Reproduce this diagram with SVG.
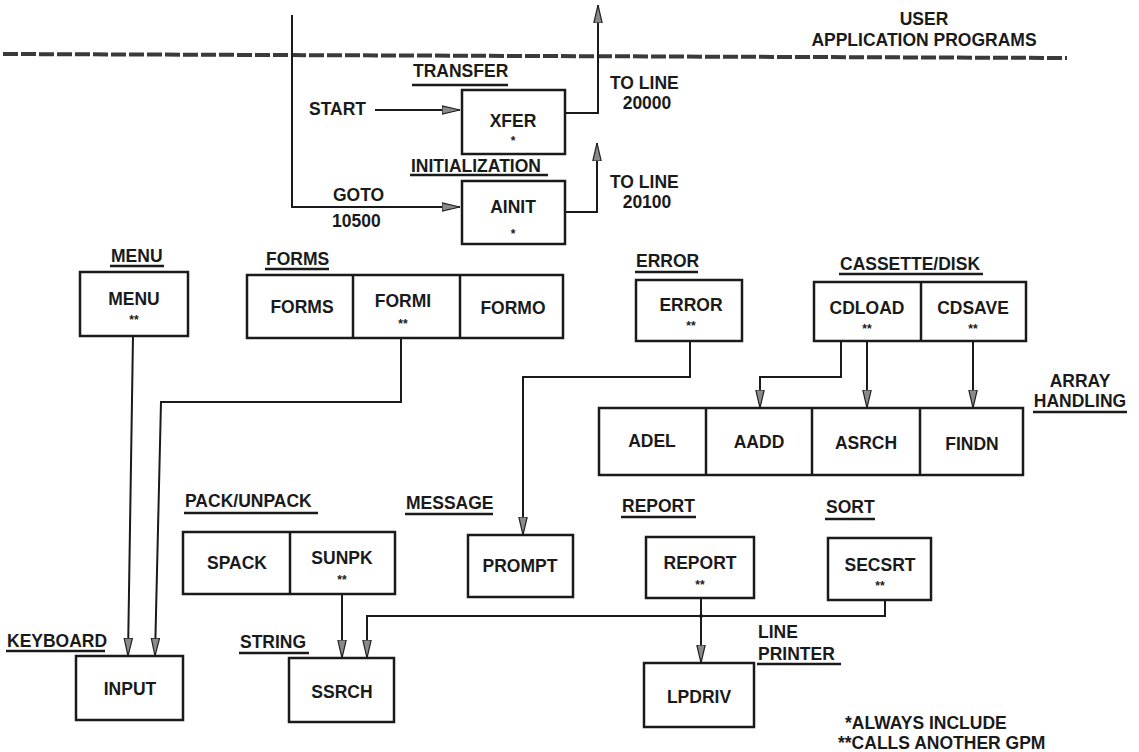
<svg xmlns="http://www.w3.org/2000/svg" width="1139" height="752" viewBox="0 0 1139 752">
<style>
text{font-family:"Liberation Sans",Arial,sans-serif;font-weight:bold;font-size:17.5px;fill:#1a1a1a}
.m{text-anchor:middle}
.s{font-size:12px}
.box{fill:none;stroke:#1a1a1a;stroke-width:2.5}
.ul{stroke:#1a1a1a;stroke-width:2.5}
.c{fill:none;stroke:#1a1a1a;stroke-width:2}
.a{marker-end:url(#arr)}
</style>
<defs>
<marker id="arr" viewBox="0 0 18 10" refX="18" refY="5" markerWidth="18" markerHeight="10" markerUnits="userSpaceOnUse" orient="auto">
<path d="M0,0.8 L18,5 L0,9.2 Z" fill="#8a8a8a" stroke="#222" stroke-width="1.2"/>
</marker>
</defs>
<rect width="1139" height="752" fill="#fff"/>

<g id="boundary">
<line x1="3" y1="54" x2="1067" y2="58" stroke="#3a3a3a" stroke-width="4" stroke-dasharray="15 3"/>
<text class="m" x="924" y="25">USER</text>
<text class="m" x="924" y="46">APPLICATION PROGRAMS</text>
</g>

<g id="connectors">
<path class="c a" d="M292,15 V207 H460"/>
<path class="c a" d="M375,110 H460"/>
<path class="c a" d="M565,113 H598 V5"/>
<path class="c a" d="M565,212 H597 V143"/>
<path class="c a" d="M133,336 L128,656"/>
<path class="c a" d="M401,338 V402 H161 L155,656"/>
<path class="c a" d="M690,341 V377 H523 V535"/>
<path class="c a" d="M841,341 V377 H760 V408"/>
<path class="c a" d="M867,341 V408"/>
<path class="c a" d="M973,341 V408"/>
<path class="c a" d="M342,594 V658"/>
<path class="c a" d="M885,600 V616 H367 V658"/>
<path class="c a" d="M701,598 V663"/>
<circle cx="701" cy="616" r="2" fill="#1a1a1a"/>
</g>

<g id="labels-top">
<text x="309" y="115">START</text>
<text x="333" y="201">GOTO</text>
<text x="332" y="227">10500</text>
<text x="610" y="89">TO LINE</text>
<text class="m" x="647" y="109">20000</text>
<text x="610" y="188">TO LINE</text>
<text class="m" x="647" y="208">20100</text>
</g>

<g id="transfer">
<text x="413" y="77">TRANSFER</text>
<line class="ul" x1="412" y1="85" x2="508" y2="85"/>
<rect class="box" x="462" y="90" width="103" height="64"/>
<text class="m" x="513" y="127">XFER</text>
<text class="m s" x="513" y="145">*</text>
</g>

<g id="initialization">
<text x="411" y="172">INITIALIZATION</text>
<line class="ul" x1="410" y1="175" x2="548" y2="175"/>
<rect class="box" x="462" y="181" width="103" height="63"/>
<text class="m" x="513" y="213">AINIT</text>
<text class="m s" x="513" y="238">*</text>
</g>

<g id="menu">
<text x="111" y="262">MENU</text>
<line class="ul" x1="110" y1="266" x2="164" y2="266"/>
<rect class="box" x="80" y="272" width="108" height="64"/>
<text class="m" x="134" y="305">MENU</text>
<text class="m s" x="134" y="324">**</text>
</g>

<g id="forms">
<text x="266" y="265">FORMS</text>
<line class="ul" x1="265" y1="269" x2="329" y2="269"/>
<rect class="box" x="247" y="275" width="316" height="63"/>
<line class="box" x1="353" y1="275" x2="353" y2="338"/>
<line class="box" x1="460" y1="276" x2="460" y2="338"/>
<text class="m" x="302" y="313">FORMS</text>
<text class="m" x="403" y="307">FORMI</text>
<text class="m s" x="403" y="328">**</text>
<text class="m" x="513" y="314">FORMO</text>
</g>

<g id="error">
<text x="636" y="267">ERROR</text>
<line class="ul" x1="635" y1="272" x2="698" y2="272"/>
<rect class="box" x="636" y="280" width="106" height="61"/>
<text class="m" x="691" y="311">ERROR</text>
<text class="m s" x="691" y="330">**</text>
</g>

<g id="cassette-disk">
<text x="840" y="270">CASSETTE/DISK</text>
<line class="ul" x1="839" y1="274" x2="983" y2="274"/>
<rect class="box" x="814" y="282" width="212" height="59"/>
<line class="box" x1="921" y1="282" x2="921" y2="341"/>
<text class="m" x="867" y="314">CDLOAD</text>
<text class="m s" x="867" y="333">**</text>
<text class="m" x="973" y="314">CDSAVE</text>
<text class="m s" x="973" y="333">**</text>
</g>

<g id="array-handling">
<text class="m" x="1080" y="387">ARRAY</text>
<text class="m" x="1080" y="407">HANDLING</text>
<line class="ul" x1="1033" y1="412" x2="1127" y2="412"/>
<rect class="box" x="599" y="408" width="424" height="67"/>
<line class="box" x1="706" y1="408" x2="706" y2="475"/>
<line class="box" x1="812" y1="408" x2="812" y2="475"/>
<line class="box" x1="920" y1="408" x2="920" y2="475"/>
<text class="m" x="652" y="447">ADEL</text>
<text class="m" x="759" y="448">AADD</text>
<text class="m" x="866" y="449">ASRCH</text>
<text class="m" x="972" y="450">FINDN</text>
</g>

<g id="pack-unpack">
<text x="185" y="507">PACK/UNPACK</text>
<line class="ul" x1="184" y1="513" x2="318" y2="513"/>
<rect class="box" x="183" y="532" width="212" height="62"/>
<line class="box" x1="290" y1="532" x2="290" y2="594"/>
<text class="m" x="237" y="569">SPACK</text>
<text class="m" x="342" y="564">SUNPK</text>
<text class="m s" x="342" y="584">**</text>
</g>

<g id="message">
<text x="406" y="509">MESSAGE</text>
<line class="ul" x1="405" y1="514" x2="493" y2="514"/>
<rect class="box" x="468" y="535" width="105" height="62"/>
<text class="m" x="520" y="572">PROMPT</text>
</g>

<g id="report">
<text x="622" y="512">REPORT</text>
<line class="ul" x1="621" y1="517" x2="696" y2="517"/>
<rect class="box" x="646" y="537" width="108" height="61"/>
<text class="m" x="700" y="569">REPORT</text>
<text class="m s" x="700" y="589">**</text>
</g>

<g id="sort">
<text x="826" y="513">SORT</text>
<line class="ul" x1="825" y1="519" x2="875" y2="519"/>
<rect class="box" x="828" y="538" width="103" height="62"/>
<text class="m" x="880" y="571">SECSRT</text>
<text class="m s" x="880" y="590">**</text>
</g>

<g id="keyboard">
<text x="7" y="647">KEYBOARD</text>
<line class="ul" x1="6" y1="651" x2="105" y2="651"/>
<rect class="box" x="76" y="656" width="107" height="64"/>
<text class="m" x="130" y="695">INPUT</text>
</g>

<g id="string">
<text x="240" y="648">STRING</text>
<line class="ul" x1="239" y1="653" x2="309" y2="653"/>
<rect class="box" x="289" y="658" width="105" height="64"/>
<text class="m" x="342" y="698">SSRCH</text>
</g>

<g id="line-printer">
<text x="758" y="638">LINE</text>
<text x="758" y="660">PRINTER</text>
<line class="ul" x1="757" y1="664" x2="841" y2="664"/>
<rect class="box" x="644" y="663" width="110" height="64"/>
<text class="m" x="699" y="703">LPDRIV</text>
</g>

<g id="legend">
<text x="845" y="729">*ALWAYS INCLUDE</text>
<text x="838" y="749">**CALLS ANOTHER GPM</text>
</g>
</svg>
